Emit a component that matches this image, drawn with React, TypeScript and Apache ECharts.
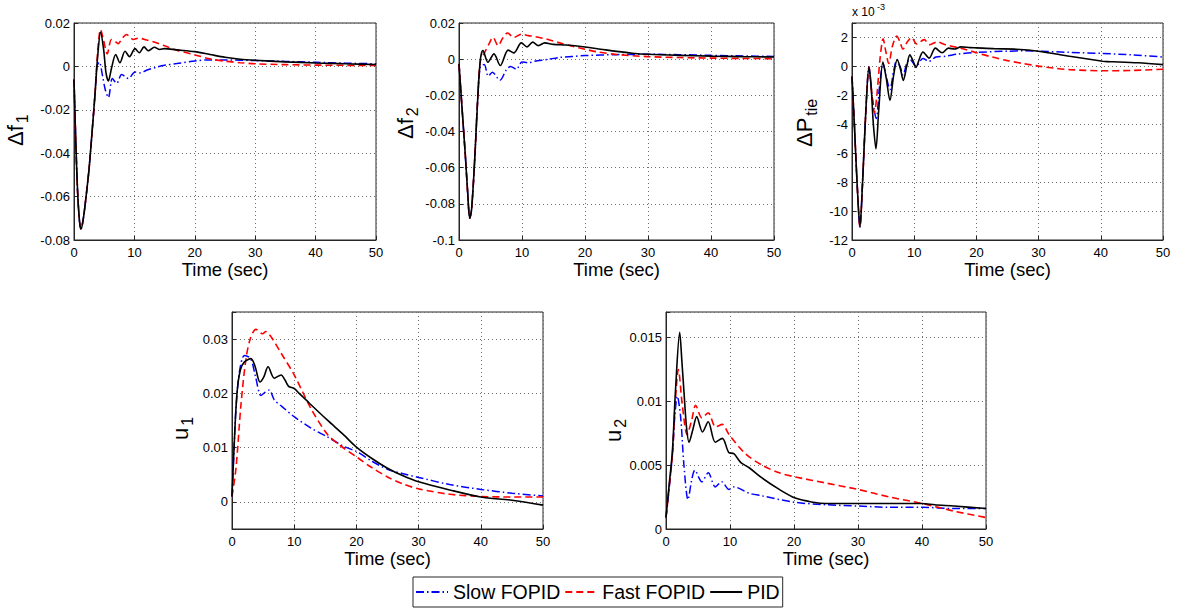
import React, { useEffect, useRef } from "react";
import * as echarts from "echarts";

const SLOW = "Slow FOPID";
const FAST = "Fast FOPID";
const PID = "PID";
const X_LABEL = "Time (sec)";

// ---------- Δf1 ----------
const f1CommonT = [0, 0.3, 0.6, 0.9, 1.15, 1.5, 2.0, 2.5, 3.0, 3.5];
const f1Common = [-0.006, -0.035, -0.058, -0.071, -0.075, -0.071, -0.06, -0.047, -0.03, -0.012];
const f1PidT = [3.9, 4.4, 4.9, 5.3, 5.7, 6.2, 6.9, 7.6, 8.45, 9.2, 10.1, 10.8, 11.6, 12.3, 13.3, 14.2, 15, 17, 20, 22.5, 25, 27.5, 30, 35, 40, 45, 50];
const f1Pid = [0.004, 0.0157, 0.008, -0.003, -0.0067, -0.001, 0.0055, 0.0017, 0.007, 0.0045, 0.0082, 0.0063, 0.009, 0.0072, 0.0088, 0.0078, 0.0082, 0.0076, 0.0068, 0.0055, 0.0042, 0.0033, 0.0028, 0.0021, 0.0016, 0.0012, 0.0009];
const f1FastT = [3.9, 4.4, 4.9, 5.5, 6.2, 6.8, 7.3, 8.0, 8.7, 9.3, 9.8, 10.7, 12, 13.5, 15, 17, 20, 22.5, 25, 27.5, 30, 35, 40, 45, 50];
const f1Fast = [0.006, 0.017, 0.012, 0.0058, 0.0124, 0.0115, 0.0105, 0.013, 0.0147, 0.0135, 0.0124, 0.013, 0.0122, 0.011, 0.0095, 0.0075, 0.0053, 0.0035, 0.0024, 0.0017, 0.0012, 0.0008, 0.0006, 0.0005, 0.0004];
const f1SlowT = [3.8, 4.2, 4.7, 5.2, 5.7, 6.35, 7.07, 7.9, 9.0, 10.1, 11, 12, 13.5, 15, 17, 20, 22.5, 25, 30, 35, 40, 45, 50];
const f1Slow = [0.0, 0.002, -0.004, -0.011, -0.0144, -0.0056, -0.0078, -0.0037, -0.0056, -0.0026, -0.003, -0.0018, -0.0005, 0.0005, 0.0013, 0.0025, 0.003, 0.003, 0.0027, 0.0023, 0.0019, 0.0015, 0.0012];

// ---------- Δf2 ----------
const f2CommonT = [0, 0.5, 1.0, 1.4, 1.7, 2.0, 2.5, 3.0];
const f2Common = [-0.0026, -0.028, -0.053, -0.075, -0.088, -0.083, -0.055, -0.02];
const f2PidT = [3.4, 3.8, 4.6, 5.55, 6.55, 7.8, 8.7, 9.9, 10.8, 11.7, 12.6, 13.6, 15, 17, 20, 22.5, 25, 27.5, 30, 35, 40, 45, 50];
const f2Pid = [0.0, 0.0048, -0.0017, 0.0029, -0.0035, 0.005, 0.0035, 0.009, 0.0068, 0.0094, 0.0075, 0.009, 0.0082, 0.0078, 0.0067, 0.0055, 0.0043, 0.0033, 0.0027, 0.0021, 0.0017, 0.0014, 0.0012];
const f2FastT = [3.4, 4.1, 4.7, 5.4, 6.2, 7.0, 7.7, 8.7, 9.9, 11, 12, 14, 16, 18, 20, 22, 25, 30, 35, 40, 45, 50];
const f2Fast = [-0.001, 0.0039, 0.008, 0.012, 0.0075, 0.012, 0.0145, 0.012, 0.0138, 0.013, 0.0125, 0.011, 0.009, 0.0072, 0.0055, 0.004, 0.0026, 0.0014, 0.0009, 0.0006, 0.0004, 0.0003];
const f2SlowT = [3.4, 4.0, 4.65, 5.3, 6.5, 7.5, 8.2, 9.1, 10, 11, 12, 14, 16, 18, 20, 25, 30, 35, 40, 45, 50];
const f2Slow = [-0.004, -0.003, -0.0094, -0.0072, -0.0117, -0.006, -0.004, -0.0055, -0.0015, -0.002, -0.0012, -0.0002, 0.001, 0.0015, 0.002, 0.0025, 0.0027, 0.0025, 0.0021, 0.0018, 0.0015];

// ---------- ΔPtie (x 10^-3) ----------
const pCommonT = [0, 0.4, 0.8, 1.28, 1.7, 2.2, 2.73, 3.1];
const pCommon = [-0.7, -4.2, -7.9, -11.1, -8.0, -3.3, -0.05, -1.5];
const pPidT = [3.4, 3.85, 4.3, 4.97, 5.5, 6.1, 6.7, 7.27, 7.8, 8.24, 8.8, 9.3, 9.8, 10.27, 10.9, 11.4, 12.4, 13.4, 14.5, 15.5, 16.5, 17.5, 19, 20, 23, 26.4, 30, 35, 40.3, 41, 42, 46, 50];
const pPid = [-3.8, -5.7, -3.0, 0.3, -0.8, -2.35, -0.6, 0.48, -0.2, -0.97, 0.0, 0.8, 0.4, -0.07, 0.6, 1.0, 0.57, 1.26, 0.94, 1.26, 1.2, 1.35, 1.3, 1.28, 1.22, 1.19, 1.05, 0.7, 0.36, 0.33, 0.32, 0.25, 0.12];
const pFastT = [3.2, 3.6, 4.0, 4.5, 5.0, 5.45, 5.9, 6.5, 7.2, 7.7, 8.2, 8.9, 9.6, 10.4, 11.6, 12.5, 13.7, 15, 17, 18, 20, 22.5, 25, 27.5, 30, 32.5, 35, 40, 45, 50];
const pFast = [-2.0, -3.2, -2.0, 0.5, 1.9, 1.0, 0.2, 1.4, 2.1, 1.7, 1.2, 1.7, 2.0, 1.55, 1.85, 1.5, 1.7, 1.5, 1.3, 1.2, 0.95, 0.65, 0.4, 0.2, 0.02, -0.12, -0.22, -0.3, -0.28, -0.2];
const pSlowT = [3.2, 3.9, 4.4, 5.0, 5.5, 6.1, 6.7, 7.2, 7.8, 8.2, 8.8, 9.3, 10.3, 11.4, 12.4, 13.5, 15, 17, 20, 25, 27.5, 30, 35, 40, 45, 50];
const pSlow = [-2.0, -3.6, -1.5, 0.2, -0.7, -1.6, -0.3, 0.45, -0.1, -0.6, 0.2, 0.5, 0.0, 0.55, 0.35, 0.65, 0.7, 0.85, 0.97, 1.05, 1.08, 1.05, 0.97, 0.9, 0.8, 0.65];

// ---------- u1 ----------
const u1PidT = [0, 0.37, 0.8, 1.34, 2, 3.05, 3.7, 4.5, 5.1, 5.8, 6.8, 7.9, 8.5, 9.1, 10, 10.8, 11.9, 12.7, 15.3, 18, 20, 22.5, 25, 27.5, 30, 35, 40, 45, 50];
const u1Pid = [0.001, 0.011, 0.02, 0.0243, 0.0258, 0.0264, 0.025, 0.0221, 0.023, 0.0249, 0.0228, 0.0234, 0.0225, 0.0213, 0.0209, 0.02, 0.0188, 0.0179, 0.0151, 0.0123, 0.0101, 0.008, 0.0062, 0.0048, 0.0037, 0.0022, 0.0009, 0.0003, -0.0006];
const u1FastT = [0, 0.64, 1.44, 2.25, 3, 3.85, 4.9, 5.45, 6.3, 7.9, 10, 12.7, 15.3, 17.5, 20, 22.5, 25, 27.5, 30, 35, 40, 45, 50];
const u1Fast = [0.001, 0.0062, 0.0179, 0.0264, 0.0303, 0.0318, 0.031, 0.0314, 0.0304, 0.0274, 0.0234, 0.0172, 0.0125, 0.0103, 0.0083, 0.0063, 0.0046, 0.0033, 0.0024, 0.0014, 0.001, 0.0009, 0.0009];
const u1SlowT = [0, 0.3, 0.64, 1.2, 2, 3, 3.8, 4.65, 5.3, 6, 6.8, 8, 10, 12.7, 15.3, 18, 20, 22.5, 25, 27.5, 30, 35, 40, 45, 50];
const u1Slow = [0.001, 0.009, 0.0172, 0.024, 0.027, 0.0264, 0.023, 0.0196, 0.0202, 0.0206, 0.0188, 0.0176, 0.0157, 0.0136, 0.012, 0.0102, 0.0093, 0.0075, 0.006, 0.0052, 0.0045, 0.0032, 0.0023, 0.0016, 0.0011];

// ---------- u2 ----------
const u2PidT = [0, 0.5, 1.0, 1.5, 2.14, 2.5, 2.8, 3.2, 3.6, 4.2, 4.8, 5.7, 6.6, 7.7, 8.8, 9.8, 10.6, 11.7, 13, 15, 17.7, 20.3, 23, 25, 30, 35, 40, 42, 45, 50];
const u2Pid = [0.0009, 0.0035, 0.0061, 0.011, 0.0154, 0.013, 0.0108, 0.008, 0.0068, 0.0078, 0.0088, 0.0076, 0.0084, 0.0068, 0.0071, 0.006, 0.0059, 0.0052, 0.0048, 0.004, 0.0031, 0.0024, 0.0021, 0.002, 0.002, 0.002, 0.002, 0.0019, 0.0018, 0.0016];
const u2FastT = [0, 0.5, 1.0, 1.5, 1.93, 2.55, 3.3, 4.0, 4.64, 5.6, 6.6, 7.76, 8.8, 9.85, 12.4, 15, 17.7, 20, 25, 30, 35, 40, 45, 50];
const u2Fast = [0.0009, 0.0033, 0.0058, 0.0103, 0.0125, 0.0097, 0.0074, 0.0085, 0.0097, 0.0087, 0.0091, 0.008, 0.0082, 0.0074, 0.0059, 0.005, 0.0044, 0.0041, 0.0036, 0.0031, 0.0025, 0.002, 0.0014, 0.0009];
const u2SlowT = [0, 0.5, 1.0, 1.4, 1.77, 2.3, 2.8, 3.44, 4.0, 4.5, 5.6, 6.6, 7.7, 8.7, 9.85, 10.6, 13, 15, 20, 25, 30, 35, 40, 45, 50];
const u2Slow = [0.0009, 0.0032, 0.0058, 0.009, 0.0104, 0.0087, 0.005, 0.0023, 0.0038, 0.0046, 0.0037, 0.0044, 0.0033, 0.0037, 0.0031, 0.0033, 0.0028, 0.0026, 0.0021, 0.0019, 0.0018, 0.0017, 0.0017, 0.0016, 0.0016];

const FONT = "'Liberation Sans', Arial, Helvetica, sans-serif";

const pair = (t: number[], v: number[]) => t.map((x, i) => [x, v[i]]);
const withCommon = (ct: number[], cv: number[], t: number[], v: number[]) =>
  pair(ct.concat(t), cv.concat(v));

const fmt = (v: number) => {
  const r = Math.round(v * 1e6) / 1e6;
  return r === 0 ? "0" : String(r);
};

export default function App() {
  const ref = useRef<HTMLDivElement>(null);
  useEffect(() => {
    if (!ref.current) return;
    const chart = echarts.init(ref.current, undefined, { renderer: "svg" });

    const grids = [
      { left: 74, top: 23, width: 302, height: 217 },
      { left: 459, top: 23, width: 315, height: 217 },
      { left: 852, top: 23, width: 311, height: 217 },
      { left: 232, top: 312, width: 311, height: 217 },
      { left: 666, top: 312, width: 320, height: 217 },
    ].map((g) => ({ ...g, show: true, borderColor: "#262626", borderWidth: 1, containLabel: false }));

    const axisCommon = {
      axisLine: { show: true, onZero: false, lineStyle: { color: "#262626", width: 1 } },
      axisTick: { show: true, inside: true, length: 4, lineStyle: { color: "#262626" } },
      splitLine: { show: true, lineStyle: { color: "#6e6e6e", type: [1, 3] as any, width: 1 } },
    };

    const xAxes = grids.map((_, i) => ({
      type: "value",
      gridIndex: i,
      min: 0,
      max: 50,
      interval: 10,
      ...axisCommon,
      axisLabel: { fontFamily: FONT, fontSize: 13, color: "#000", margin: 6, formatter: fmt },
      name: X_LABEL,
      nameLocation: "middle",
      nameGap: 19,
      nameTextStyle: { fontFamily: FONT, fontSize: 18.5, color: "#000", verticalAlign: "top" },
    }));

    const yl = (extra: any, fmtFn: (v: number) => string) => ({
      type: "value",
      ...axisCommon,
      axisLabel: { fontFamily: FONT, fontSize: 13, color: "#000", margin: 4, formatter: fmtFn },
      ...extra,
    });

    const yAxes = [
      yl({ gridIndex: 0, min: -0.08, max: 0.02, interval: 0.02 }, fmt),
      yl({ gridIndex: 1, min: -0.1, max: 0.02, interval: 0.02 }, fmt),
      yl({ gridIndex: 2, min: -12, max: 3, interval: 2 }, (v) => (v > 2.5 ? "" : fmt(v))),
      yl({ gridIndex: 3, min: -0.005, max: 0.035, splitNumber: 4 }, (v) => (v < -0.004 || v > 0.034 ? "" : fmt(v))),
      yl({ gridIndex: 4, min: 0, max: 0.017, interval: 0.005 }, (v) => (v > 0.016 ? "" : fmt(v))),
    ];

    const styles: Record<string, any> = {
      [SLOW]: { color: "#0000ff", width: 1.5, type: [8, 3, 1.5, 3] },
      [FAST]: { color: "#ff0000", width: 1.6, type: [7, 4] },
      [PID]: { color: "#000000", width: 1.6, type: "solid" },
    };

    const plotData: [string, number[][]][][] = [
      [
        [SLOW, withCommon(f1CommonT, f1Common, f1SlowT, f1Slow)],
        [FAST, withCommon(f1CommonT, f1Common, f1FastT, f1Fast)],
        [PID, withCommon(f1CommonT, f1Common, f1PidT, f1Pid)],
      ],
      [
        [SLOW, withCommon(f2CommonT, f2Common, f2SlowT, f2Slow)],
        [FAST, withCommon(f2CommonT, f2Common, f2FastT, f2Fast)],
        [PID, withCommon(f2CommonT, f2Common, f2PidT, f2Pid)],
      ],
      [
        [SLOW, withCommon(pCommonT, pCommon, pSlowT, pSlow)],
        [FAST, withCommon(pCommonT, pCommon, pFastT, pFast)],
        [PID, withCommon(pCommonT, pCommon, pPidT, pPid)],
      ],
      [
        [SLOW, pair(u1SlowT, u1Slow)],
        [FAST, pair(u1FastT, u1Fast)],
        [PID, pair(u1PidT, u1Pid)],
      ],
      [
        [SLOW, pair(u2SlowT, u2Slow)],
        [FAST, pair(u2FastT, u2Fast)],
        [PID, pair(u2PidT, u2Pid)],
      ],
    ];

    const series: any[] = [];
    plotData.forEach((plot, i) => {
      plot.forEach(([name, data]) => {
        series.push({
          type: "line",
          name,
          xAxisIndex: i,
          yAxisIndex: i,
          data,
          showSymbol: false,
          symbol: "none",
          smooth: 0.3,
          lineStyle: styles[name],
          itemStyle: { color: styles[name].color },
          z: name === PID ? 4 : name === FAST ? 3 : 2,
        });
      });
    });

    // y-axis labels with subscripts
    const canvas = document.createElement("canvas");
    const ctx = canvas.getContext("2d")!;
    const mainSize = 22;
    const subSize = 16;
    const measure = (s: string) => {
      ctx.font = `${mainSize}px ${FONT}`;
      return ctx.measureText(s).width;
    };
    const ylabel = (x: number, yBottom: number, main: string, sub: string) => {
      const w = measure(main);
      return [
        {
          type: "text",
          x,
          y: yBottom,
          rotation: Math.PI / 2,
          style: { text: main, font: `${mainSize}px ${FONT}`, fill: "#000", align: "left", verticalAlign: "middle" },
        },
        {
          type: "text",
          x: x + 7,
          y: yBottom - w - 2,
          rotation: Math.PI / 2,
          style: { text: sub, font: `${subSize}px ${FONT}`, fill: "#000", align: "left", verticalAlign: "middle" },
        },
      ];
    };

    const graphic: any[] = [
      ...ylabel(15, 146, "Δf", "1"),
      ...ylabel(405, 139, "Δf", "2"),
      ...ylabel(804, 147, "ΔP", "tie"),
      ...ylabel(180, 440, "u", "1"),
      ...ylabel(613, 442, "u", "2"),
      {
        type: "text",
        x: 852,
        y: 18,
        style: { text: "x 10", font: `12px ${FONT}`, fill: "#000", align: "left", verticalAlign: "bottom" },
      },
      {
        type: "text",
        x: 877,
        y: 11,
        style: { text: "-3", font: `9px ${FONT}`, fill: "#000", align: "left", verticalAlign: "bottom" },
      },
    ];

    chart.setOption({
      animation: false,
      backgroundColor: "#fff",
      grid: grids,
      xAxis: xAxes,
      yAxis: yAxes,
      series,
      legend: {
        data: [SLOW, FAST, PID],
        left: 413,
        top: 577,
        orient: "horizontal",
        itemWidth: 32,
        itemHeight: 14,
        itemGap: 4,
        padding: [5, 3, 5, 2],
        borderColor: "#262626",
        borderWidth: 1,
        selectedMode: false,
        itemStyle: { opacity: 0 },
        textStyle: { fontFamily: FONT, fontSize: 19.5, color: "#000" },
      },
      graphic,
    });

    return () => chart.dispose();
  }, []);

  return (
    <div
      ref={ref}
      style={{ position: "fixed", left: 0, top: 0, width: 1179, height: 612, background: "#fff" }}
    />
  );
}
